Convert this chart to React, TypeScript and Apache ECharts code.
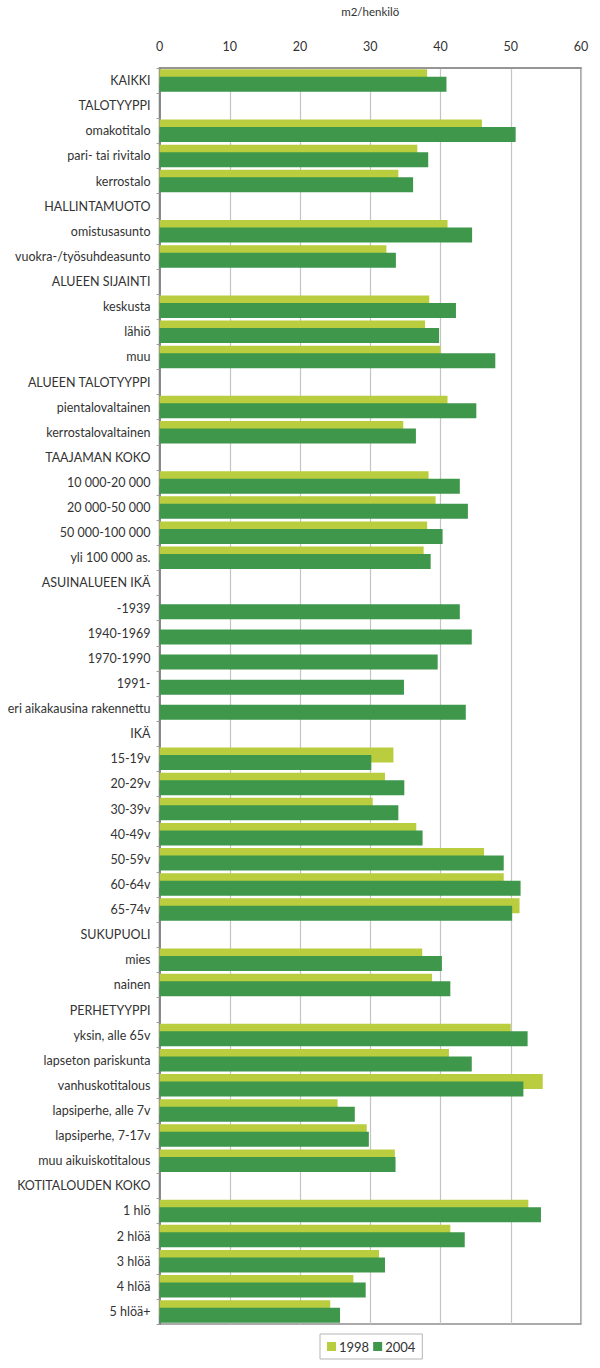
import React, { useEffect, useRef } from "react";
import * as echarts from "echarts";

const categories: string[] = [
  "KAIKKI",
  "TALOTYYPPI",
  "omakotitalo",
  "pari- tai rivitalo",
  "kerrostalo",
  "HALLINTAMUOTO",
  "omistusasunto",
  "vuokra-/työsuhdeasunto",
  "ALUEEN SIJAINTI",
  "keskusta",
  "lähiö",
  "muu",
  "ALUEEN TALOTYYPPI",
  "pientalovaltainen",
  "kerrostalovaltainen",
  "TAAJAMAN KOKO",
  "10 000-20 000",
  "20 000-50 000",
  "50 000-100 000",
  "yli 100 000 as.",
  "ASUINALUEEN IKÄ",
  "-1939",
  "1940-1969",
  "1970-1990",
  "1991-",
  "eri aikakausina rakennettu",
  "IKÄ",
  "15-19v",
  "20-29v",
  "30-39v",
  "40-49v",
  "50-59v",
  "60-64v",
  "65-74v",
  "SUKUPUOLI",
  "mies",
  "nainen",
  "PERHETYYPPI",
  "yksin, alle 65v",
  "lapseton pariskunta",
  "vanhuskotitalous",
  "lapsiperhe, alle 7v",
  "lapsiperhe, 7-17v",
  "muu aikuiskotitalous",
  "KOTITALOUDEN KOKO",
  "1 hlö",
  "2 hlöä",
  "3 hlöä",
  "4 hlöä",
  "5 hlöä+",
];

const values1998: (number | null)[] = [
  38.1,
  null,
  45.9, 36.7, 34.0,
  null,
  41.0, 32.3,
  null,
  38.4, 37.8, 40.0,
  null,
  41.0, 34.7,
  null,
  38.3, 39.3, 38.1, 37.6,
  null,
  null, null, null, null, null,
  null,
  33.3, 32.1, 30.35, 36.55, 46.2, 49.0, 51.25,
  null,
  37.4, 38.8,
  null,
  50.0, 41.2, 54.55, 25.35, 29.5, 33.5,
  null,
  52.5, 41.4, 31.25, 27.6, 24.3,
];

const values2004: (number | null)[] = [
  40.85,
  null,
  50.7, 38.25, 36.1,
  null,
  44.5, 33.65,
  null,
  42.2, 39.8, 47.8,
  null,
  45.1, 36.5,
  null,
  42.75, 43.9, 40.3, 38.6,
  null,
  42.75, 44.45, 39.6, 34.8, 43.6,
  null,
  30.15, 34.85, 34.0, 37.45, 49.0, 51.4, 50.2,
  null,
  40.2, 41.4,
  null,
  52.4, 44.45, 51.8, 27.8, 29.8, 33.6,
  null,
  54.3, 43.45, 32.1, 29.35, 25.7,
];

const xTicks = { min: 0, max: 60, interval: 10 };
const axisName = "m2/henkilö";
const seriesNames = ["1998", "2004"];

const FONT = "Lato, 'Open Sans', sans-serif";
const TEXT = "#333333";

export default function App() {
  const ref = useRef<HTMLDivElement>(null);

  useEffect(() => {
    document.body.style.margin = "0";
    if (!ref.current) return;
    const chart = echarts.init(ref.current, null, { renderer: "svg" });
    chart.setOption({
      animation: false,
      backgroundColor: "#ffffff",
      textStyle: { fontFamily: FONT },
      grid: {
        left: 159.5,
        right: 19,
        top: 52,
        bottom: 44,
        show: true,
        borderColor: "#8f8f8f",
        borderWidth: 1.5,
        backgroundColor: "transparent",
      },
      legend: {
        data: seriesNames,
        left: 320,
        top: 1334,
        orient: "horizontal",
        itemWidth: 9,
        itemHeight: 9,
        itemGap: 4,
        padding: [6, 7, 6, 7],
        borderColor: "#b5b5b5",
        borderWidth: 1,
        icon: "rect",
        textStyle: { fontFamily: FONT, fontSize: 13, color: TEXT, padding: [0, 0, 0, -2] },
      },
      xAxis: {
        type: "value",
        position: "top",
        min: xTicks.min,
        max: xTicks.max,
        interval: xTicks.interval,
        name: axisName,
        nameLocation: "middle",
        nameGap: 51,
        nameTextStyle: { fontFamily: FONT, fontSize: 11.5, color: TEXT },
        axisLine: { show: true, lineStyle: { color: "#8f8f8f", width: 1.5 } },
        axisTick: { show: false },
        axisLabel: { fontFamily: FONT, fontSize: 12.5, color: TEXT, margin: 15 },
        splitLine: { show: true, lineStyle: { color: "#c4c4c4", width: 1.2 } },
      },
      yAxis: {
        type: "category",
        data: categories,
        inverse: true,
        axisLine: { show: true, lineStyle: { color: "#6e6e6e", width: 1.5 } },
        axisTick: { show: true, length: 3, lineStyle: { color: "#a0a0a0" } },
        axisLabel: { fontFamily: FONT, fontSize: 12.5, color: TEXT, margin: 9, interval: 0 },
        splitLine: { show: false },
      },
      series: [
        {
          name: seriesNames[0],
          type: "bar",
          data: values1998,
          barWidth: 15,
          barGap: "-50%",
          itemStyle: { color: "#b9cd3e" },
        },
        {
          name: seriesNames[1],
          type: "bar",
          data: values2004,
          barWidth: 15,
          barGap: "-50%",
          itemStyle: { color: "#3e974b" },
        },
      ],
    });
    return () => chart.dispose();
  }, []);

  return <div ref={ref} style={{ width: 600, height: 1368 }} />;
}
